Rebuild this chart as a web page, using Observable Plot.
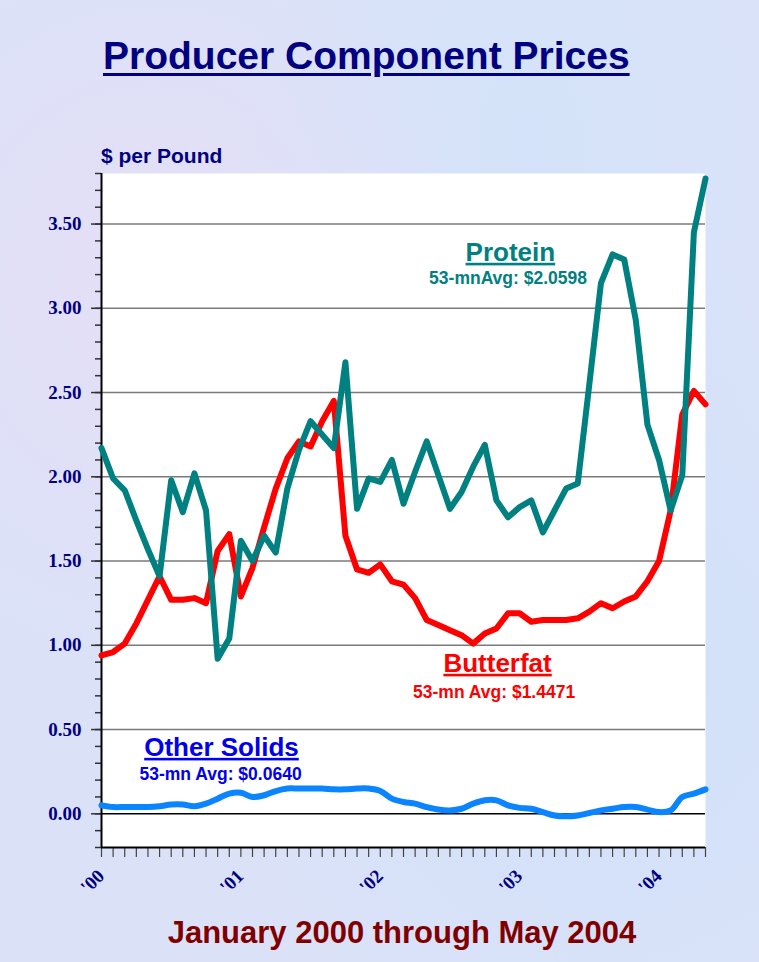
<!DOCTYPE html>
<html><head><meta charset="utf-8">
<script src="https://cdn.jsdelivr.net/npm/d3@7"></script>
<script src="https://cdn.jsdelivr.net/npm/@observablehq/plot@0.6"></script>
<style>
html,body{margin:0;padding:0;}
body{width:759px;height:962px;overflow:hidden;background:#dbe2f8;}
#wrap{position:relative;width:759px;height:962px;
  background:
    radial-gradient(ellipse at 20% 30%, rgba(235,220,245,0.6), rgba(235,220,245,0) 40%),
    radial-gradient(ellipse at 80% 70%, rgba(200,225,250,0.6), rgba(200,225,250,0) 45%),
    radial-gradient(ellipse at 70% 15%, rgba(205,228,250,0.5), rgba(205,228,250,0) 40%),
    #dbe2f8;}
.t{position:absolute;font-family:"Liberation Sans",Arial,Helvetica,sans-serif;font-weight:bold;white-space:nowrap;line-height:1;}
#title{left:103px;top:36px;font-size:39px;color:#000080;text-decoration:underline;text-decoration-thickness:3px;text-underline-offset:4px;}
#unit{left:101px;top:145px;font-size:21px;color:#000080;}
#caption{left:402px;top:917px;font-size:31px;color:#800000;transform:translateX(-50%);}
#chart{position:absolute;left:0;top:0;}
</style>
</head><body>
<div id="wrap">
  <div id="chart"></div>
  <div class="t" id="title">Producer Component Prices</div>
  <div class="t" id="unit">$ per Pound</div>
  <div class="t" id="caption">January 2000 through May 2004</div>
</div>
<script>
// Months: Jan 2000 (0) .. May 2004 (52)
const monthIndex = d3.range(53);
const yearTicks = [0, 12, 24, 36, 48];
const yearLabels = ["'00", "'01", "'02", "'03", "'04"];
const yMajorTicks = [0, 0.5, 1, 1.5, 2, 2.5, 3, 3.5];
const gridValues = [0.5, 1, 1.5, 2, 2.5, 3, 3.5];

const protein = [2.17,1.99,1.92,1.74,1.57,1.41,1.98,1.79,2.02,1.80,
  0.92,1.04,1.62,1.50,1.65,1.55,1.93,2.16,2.33,2.25,
  2.17,2.68,1.81,1.99,1.97,2.10,1.84,2.03,2.21,2.01,
  1.81,1.91,2.06,2.19,1.86,1.76,1.82,1.86,1.67,1.80,
  1.93,1.96,2.55,3.15,3.32,3.29,2.93,2.31,2.10,1.80,
  2.01,3.45,3.77];
const butterfat = [0.94,0.96,1.01,1.13,1.27,1.41,1.27,1.27,1.28,1.25,
  1.56,1.66,1.29,1.46,1.70,1.93,2.11,2.21,2.18,2.33,
  2.45,1.65,1.45,1.43,1.48,1.38,1.36,1.28,1.15,1.12,
  1.09,1.06,1.01,1.07,1.10,1.19,1.19,1.14,1.15,1.15,
  1.15,1.16,1.20,1.25,1.22,1.26,1.29,1.38,1.50,1.80,
  2.37,2.51,2.43];
const otherSolids = [0.05,0.04,0.04,0.04,0.04,0.045,0.055,0.055,0.045,0.06,
  0.09,0.12,0.125,0.10,0.11,0.135,0.15,0.15,0.15,0.15,
  0.145,0.145,0.15,0.15,0.135,0.09,0.07,0.06,0.04,0.025,
  0.02,0.03,0.06,0.08,0.08,0.05,0.035,0.03,0.01,-0.01,
  -0.015,-0.01,0.005,0.02,0.03,0.04,0.04,0.025,0.01,0.02,
  0.10,0.12,0.145];

const seriesNames = ["Protein", "Butterfat", "Other Solids"];
const seriesAverages = ["53-mnAvg: $2.0598", "53-mn Avg: $1.4471", "53-mn Avg: $0.0640"];

const rows = monthIndex.map((m, i) => ({m, protein: protein[i], butterfat: butterfat[i], other: otherSolids[i]}));
const yMinor = d3.range(-2, 39).map(d => d / 10);

const sans = '"Liberation Sans", Arial, Helvetica, sans-serif';
const serif = '"Liberation Serif", "Times New Roman", Times, serif';

const chart = Plot.plot({
  width: 759,
  height: 962,
  marginLeft: 101,
  marginRight: 54,
  marginTop: 173,
  marginBottom: 115,
  style: {background: "transparent", overflow: "visible"},
  x: {domain: [0, 52], axis: null},
  y: {domain: [-0.2, 3.8], axis: null},
  marks: [
    Plot.frame({fill: "white", stroke: "none"}),
    Plot.ruleY(gridValues, {stroke: "#7a7a7a", strokeWidth: 1.5}),
    Plot.ruleY([0], {stroke: "black", strokeWidth: 1.5}),
    Plot.axisY({ticks: yMinor, tickSize: 6, tickFormat: () => "", stroke: "#333", strokeWidth: 1.5, label: null}),
    Plot.axisY({ticks: yMajorTicks, tickSize: 10, tickFormat: () => "", stroke: "#333", strokeWidth: 1.5, label: null}),
    Plot.axisY({ticks: yMajorTicks, tickSize: 0, tickPadding: 20, tickFormat: d3.format(".2f"),
      fontFamily: serif, fontWeight: "bold", fontSize: 19, fill: "#000080", label: null}),
    Plot.axisX({ticks: monthIndex, tickSize: 10, tickFormat: () => "", stroke: "#444", strokeWidth: 1.2, label: null}),
    Plot.text(yearTicks, {x: d => d, text: (d, i) => yearLabels[i], frameAnchor: "bottom", dy: 34, dx: -9,
      rotate: -45, textAnchor: "middle", lineAnchor: "middle",
      fontFamily: serif, fontWeight: "bold", fontSize: 19, fill: "#000080"}),
    Plot.ruleX([0], {stroke: "black", strokeWidth: 2}),
    Plot.ruleY([-0.2], {stroke: "black", strokeWidth: 2}),
    Plot.line(rows, {x: "m", y: "other", stroke: "#0a84ff", strokeWidth: 6, curve: "catmull-rom", strokeLinejoin: "round", strokeLinecap: "round"}),
    Plot.line(rows, {x: "m", y: "butterfat", stroke: "#ff0000", strokeWidth: 6, strokeLinejoin: "round", strokeLinecap: "round"}),
    Plot.line(rows, {x: "m", y: "protein", stroke: "#008080", strokeWidth: 6, strokeLinejoin: "round", strokeLinecap: "round"}),
    // series labels
    Plot.text([seriesNames[0]], {x: 35.2, y: 3.282, text: d => d, lineAnchor: "bottom", textAnchor: "middle", fontFamily: sans, fontWeight: "bold", fontSize: 26, fill: "#008080"}),
    Plot.text([seriesAverages[0]], {x: 35.0, y: 3.145, text: d => d, lineAnchor: "bottom", textAnchor: "middle", fontFamily: sans, fontWeight: "bold", fontSize: 17.5, fill: "#008080"}),
    Plot.text([seriesNames[1]], {x: 34.1, y: 0.843, text: d => d, lineAnchor: "bottom", textAnchor: "middle", fontFamily: sans, fontWeight: "bold", fontSize: 26, fill: "#ff0000"}),
    Plot.text([seriesAverages[1]], {x: 33.8, y: 0.688, text: d => d, lineAnchor: "bottom", textAnchor: "middle", fontFamily: sans, fontWeight: "bold", fontSize: 17.5, fill: "#ff0000"}),
    Plot.text([seriesNames[2]], {x: 10.33, y: 0.344, text: d => d, lineAnchor: "bottom", textAnchor: "middle", fontFamily: sans, fontWeight: "bold", fontSize: 26, fill: "#0000ee"}),
    Plot.text([seriesAverages[2]], {x: 10.25, y: 0.202, text: d => d, lineAnchor: "bottom", textAnchor: "middle", fontFamily: sans, fontWeight: "bold", fontSize: 17.5, fill: "#0000ee"})
  ]
});
document.getElementById("chart").appendChild(chart);
chart.querySelectorAll("text").forEach(t => {
  if (seriesNames.includes(t.textContent)) t.style.textDecoration = "underline";
});
</script>
</body></html>
